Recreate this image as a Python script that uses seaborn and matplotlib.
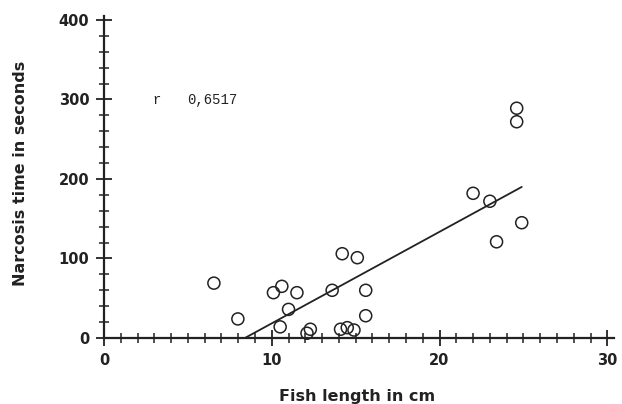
import numpy as np
import pandas as pd
import matplotlib
matplotlib.use('Agg')
import matplotlib.pyplot as plt
from matplotlib.ticker import MultipleLocator
import seaborn as sns

# data
fish_length = [6.55, 7.98, 10.1, 10.6, 10.5, 11.0, 11.5, 12.1, 12.3, 13.6, 14.2, 15.1,
               14.1, 14.5, 14.9, 15.6, 15.6, 22.0, 23.0, 23.4, 24.9, 24.6, 24.6]
narcosis_time = [69, 24, 57, 65, 14, 36, 57, 6, 11, 60, 106, 101,
                 11, 13, 10, 60, 28, 182, 172, 121, 145, 289, 272]
# fitted line as drawn (starts where it meets y=0)
fit_x = [8.4, 24.9]
fit_y = [0, 190]
r_value = '0,6517'

fish = pd.DataFrame({'length': fish_length, 'time': narcosis_time})
fit = pd.DataFrame({'x': fit_x, 'y': fit_y})

sns.set_style('ticks')
plt.rcParams['font.family'] = ['DejaVu Sans']
ink = '#222222'

fig = plt.figure(figsize=(6.22, 4.04), dpi=100)
ax = fig.add_axes([104 / 622, 66 / 404, 510 / 622, 322 / 404])

sns.lineplot(data=fit, x='x', y='y', ax=ax, color=ink, linewidth=1.3)
sns.scatterplot(data=fish, x='length', y='time', ax=ax, marker='o', s=75,
                facecolor='none', edgecolor=ink, linewidth=1.1, clip_on=False, zorder=3)

ax.set_xlim(0, 30.4)
ax.set_ylim(0, 405)
ax.xaxis.set_major_locator(MultipleLocator(10))
ax.xaxis.set_minor_locator(MultipleLocator(1))
ax.yaxis.set_major_locator(MultipleLocator(100))
ax.yaxis.set_minor_locator(MultipleLocator(20))
ax.tick_params(which='major', direction='inout', length=11, width=1.3, color=ink,
               labelsize=10.5, pad=5)
ax.tick_params(which='minor', direction='inout', length=7, width=1.1, color=ink)
for lab in ax.get_xticklabels() + ax.get_yticklabels():
    lab.set_fontweight('bold')
    lab.set_color(ink)

sns.despine(ax=ax)
for side in ['left', 'bottom']:
    ax.spines[side].set_linewidth(1.6)
    ax.spines[side].set_color(ink)

ax.set_xlabel('Fish length in cm', fontsize=11.5, fontweight='bold', color=ink)
ax.set_ylabel('Narcosis time in seconds', fontsize=11.5, fontweight='bold', color=ink)
ax.xaxis.set_label_coords(0.496, -0.158)
ax.yaxis.label.set_va('center')
ax.yaxis.set_label_coords(-0.164, 0.51)

ax.text(2.86, 299, 'r', fontsize=10, family='Liberation Mono', color=ink, va='center')
ax.text(4.94, 299, r_value, fontsize=10, family='Liberation Mono', color=ink, va='center')

fig.savefig('out.png', dpi=100)
